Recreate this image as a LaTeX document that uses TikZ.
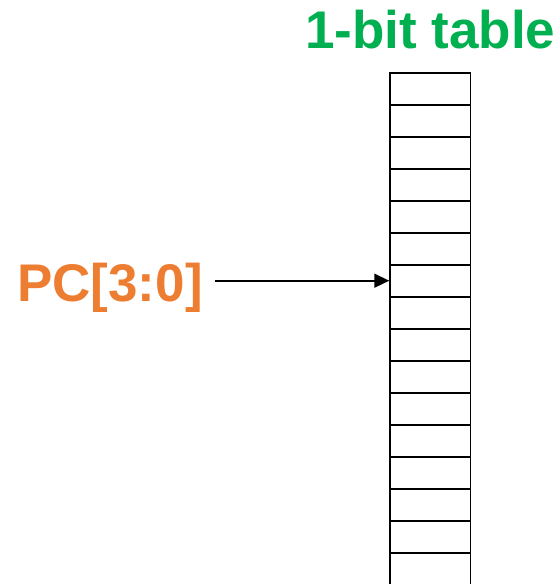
\documentclass[tikz,border=0pt]{standalone}
\usepackage{fontspec}
\setmainfont{Liberation Sans}
\usetikzlibrary{arrows.meta,positioning}
\definecolor{pcorange}{RGB}{237,125,49}
\definecolor{tabgreen}{RGB}{0,176,80}

\begin{document}
\begin{tikzpicture}[x=1pt,y=-1pt]
		\useasboundingbox (0,0) rectangle (557,584);
		\clip (0,0) rectangle (557,584);

		\node[anchor=base,inner sep=0pt,text=tabgreen,font=\fontsize{53}{60}\selectfont\bfseries] (titre)
			at (430.3,48) {1-bit table};

		\node[anchor=base,inner sep=0pt,text=pcorange,font=\fontsize{53}{60}\selectfont\bfseries] (pc)
			at (110,301) {PC[3:0]};

		\foreach \i in {0,...,15}
			\node[rectangle,draw,line width=1.6pt,minimum width=80.5pt,minimum height=32pt,inner sep=0pt] (row\i)
				at (430.3,{88.7+32*\i}) {};

		\path[arrows={-{Triangle[length=15pt,width=14pt]}},line width=1.6pt] ([xshift=12pt]pc.east |- row6.west) edge (row6.west);
	\end{tikzpicture}
\end{document}
